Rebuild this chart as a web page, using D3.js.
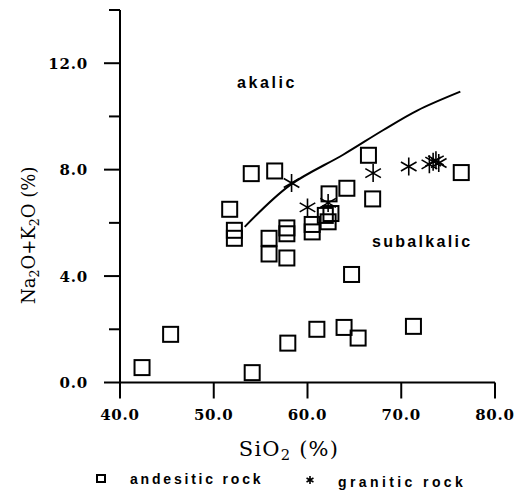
<!DOCTYPE html>
<html>
<head>
<meta charset="utf-8">
<script src="https://cdn.jsdelivr.net/npm/d3@7"></script>
<style>
  body { margin: 0; background: #fff; }
  text { fill: #000; }
</style>
</head>
<body>
<div id="chart"></div>
<script>
// andesitic rock samples [SiO2, Na2O+K2O]
const andesitic = [
  [42.35, 0.56], [45.4, 1.81], [54.1, 0.37], [57.9, 1.48], [61.0, 2.0],
  [63.9, 2.07], [65.4, 1.67], [71.3, 2.11], [64.7, 4.06],
  [54.0, 7.85], [56.5, 7.95], [51.7, 6.51], [52.2, 5.72], [52.2, 5.42],
  [55.9, 5.42], [55.9, 4.83], [57.8, 4.68], [57.8, 5.81], [57.8, 5.59],
  [60.5, 5.94], [60.5, 5.66], [62.3, 7.09], [61.9, 6.28], [62.5, 6.35],
  [62.2, 6.04], [64.2, 7.3], [66.5, 8.54], [66.95, 6.9], [76.4, 7.89]
]

// granitic rock samples
const granitic = [
  [58.3, 7.5], [60.0, 6.58], [62.2, 6.75], [67.0, 7.87], [70.8, 8.12],
  [73.0, 8.2], [73.4, 8.3], [73.7, 8.35], [74.0, 8.25]
]

// alkalic / subalkalic divide
const divide = [
  [53.3, 5.85], [58.1, 7.41], [63.8, 8.56], [68.05, 9.48], [71.7, 10.22], [76.3, 10.93]
]

const xTicks = [40, 50, 60, 70, 80]
const yTicks = [0, 2, 4, 6, 8, 10, 12, 14]
const yLabelled = [0, 4, 8, 12]

const width = 517
const height = 494

const xScale = d3.scaleLinear().domain([40, 80]).range([120, 495])
const yScale = d3.scaleLinear().domain([0, 14]).range([382.5, 10])

const svg = d3.select('#chart').append('svg')
  .attr('width', width).attr('height', height)

const serif = "'DejaVu Serif', serif"
const sans = "'Liberation Sans', Arial, sans-serif"

// ----- axes -----
const axes = svg.append('g').attr('stroke', '#000').attr('stroke-width', 2)

axes.append('line')
  .attr('x1', xScale(40)).attr('x2', xScale(40))
  .attr('y1', yScale(14)).attr('y2', yScale(0))
axes.append('line')
  .attr('x1', xScale(40)).attr('x2', xScale(80))
  .attr('y1', yScale(0)).attr('y2', yScale(0))

axes.selectAll('.ytick').data(yTicks).enter().append('line')
  .attr('x1', d => xScale(40) - (yLabelled.includes(d) ? 16 : 11))
  .attr('x2', xScale(40))
  .attr('y1', d => yScale(d)).attr('y2', d => yScale(d))

axes.selectAll('.xtick').data(xTicks).enter().append('line')
  .attr('x1', d => xScale(d)).attr('x2', d => xScale(d))
  .attr('y1', yScale(0)).attr('y2', yScale(0) + 16)

svg.selectAll('.ylab').data(yLabelled).enter().append('text')
  .attr('x', 88).attr('y', d => yScale(d) + 5.5)
  .attr('text-anchor', 'end')
  .attr('font-family', serif).attr('font-size', 15).attr('font-weight', 'bold')
  .attr('letter-spacing', 0.8)
  .text(d => d.toFixed(1))

svg.selectAll('.xlab').data(xTicks).enter().append('text')
  .attr('x', d => xScale(d)).attr('y', 420)
  .attr('text-anchor', 'middle')
  .attr('font-family', serif).attr('font-size', 15).attr('font-weight', 'bold')
  .attr('letter-spacing', 0.8)
  .text(d => d.toFixed(1))

// axis titles with subscripts
function subTitle (sel, parts) {
  parts.forEach(p => {
    const t = sel.append('tspan').text(p[0])
    if (p[1]) t.attr('font-size', '70%').attr('dy', 4)
    else if (p[2]) t.attr('dy', -4)
  })
}

const xt = svg.append('text')
  .attr('x', 289).attr('y', 456)
  .attr('text-anchor', 'middle')
  .attr('font-family', serif).attr('font-size', 21)
  .attr('letter-spacing', 1.2)
subTitle(xt, [['SiO'], ['2', true], [' (%)', false, true]])

const yt = svg.append('text')
  .attr('transform', 'translate(35 304) rotate(-90)')
  .attr('font-family', serif).attr('font-size', 18)
subTitle(yt, [['Na'], ['2', true], ['O+K', false, true], ['2', true], ['O (%)', false, true]])

// ----- divide curve -----
const line = d3.line()
  .x(d => xScale(d[0])).y(d => yScale(d[1]))
  .curve(d3.curveCatmullRom)

svg.append('path')
  .datum(divide)
  .attr('d', line)
  .attr('fill', 'none').attr('stroke', '#000').attr('stroke-width', 2)

// ----- points -----
const sq = 15
svg.append('g').selectAll('rect').data(andesitic).enter().append('rect')
  .attr('x', d => xScale(d[0]) - sq / 2)
  .attr('y', d => yScale(d[1]) - sq / 2)
  .attr('width', sq).attr('height', sq)
  .attr('fill', 'none').attr('stroke', '#000').attr('stroke-width', 2)

function starPath (r) {
  let p = ''
  ;[90, 30, 150].forEach(a => {
    const rad = a * Math.PI / 180
    const dx = r * Math.cos(rad)
    const dy = r * Math.sin(rad)
    p += `M${-dx},${-dy}L${dx},${dy}`
  })
  return p
}

svg.append('g').selectAll('path').data(granitic).enter().append('path')
  .attr('transform', d => `translate(${xScale(d[0])} ${yScale(d[1])})`)
  .attr('d', starPath(9))
  .attr('fill', 'none').attr('stroke', '#000').attr('stroke-width', 1.6)

// ----- region labels -----
svg.append('text')
  .attr('x', 237).attr('y', 88)
  .attr('font-family', sans).attr('font-size', 16).attr('font-weight', 'bold')
  .attr('letter-spacing', 2.6)
  .text('akalic')

svg.append('text')
  .attr('x', 372).attr('y', 247)
  .attr('font-family', sans).attr('font-size', 16).attr('font-weight', 'bold')
  .attr('letter-spacing', 2.3)
  .text('subalkalic')

// ----- legend -----
const legend = svg.append('g')
legend.append('rect')
  .attr('x', 97).attr('y', 475).attr('width', 8).attr('height', 7)
  .attr('fill', 'none').attr('stroke', '#000').attr('stroke-width', 2)
legend.append('text')
  .attr('x', 130).attr('y', 484)
  .attr('font-family', sans).attr('font-size', 14).attr('font-weight', 'bold')
  .attr('letter-spacing', 2.8)
  .text('andesitic rock')
legend.append('path')
  .attr('transform', 'translate(310 480)')
  .attr('d', starPath(4))
  .attr('fill', 'none').attr('stroke', '#000').attr('stroke-width', 1.6)
legend.append('text')
  .attr('x', 338).attr('y', 487)
  .attr('font-family', sans).attr('font-size', 14).attr('font-weight', 'bold')
  .attr('letter-spacing', 3.4)
  .text('granitic rock')
</script>
</body>
</html>
